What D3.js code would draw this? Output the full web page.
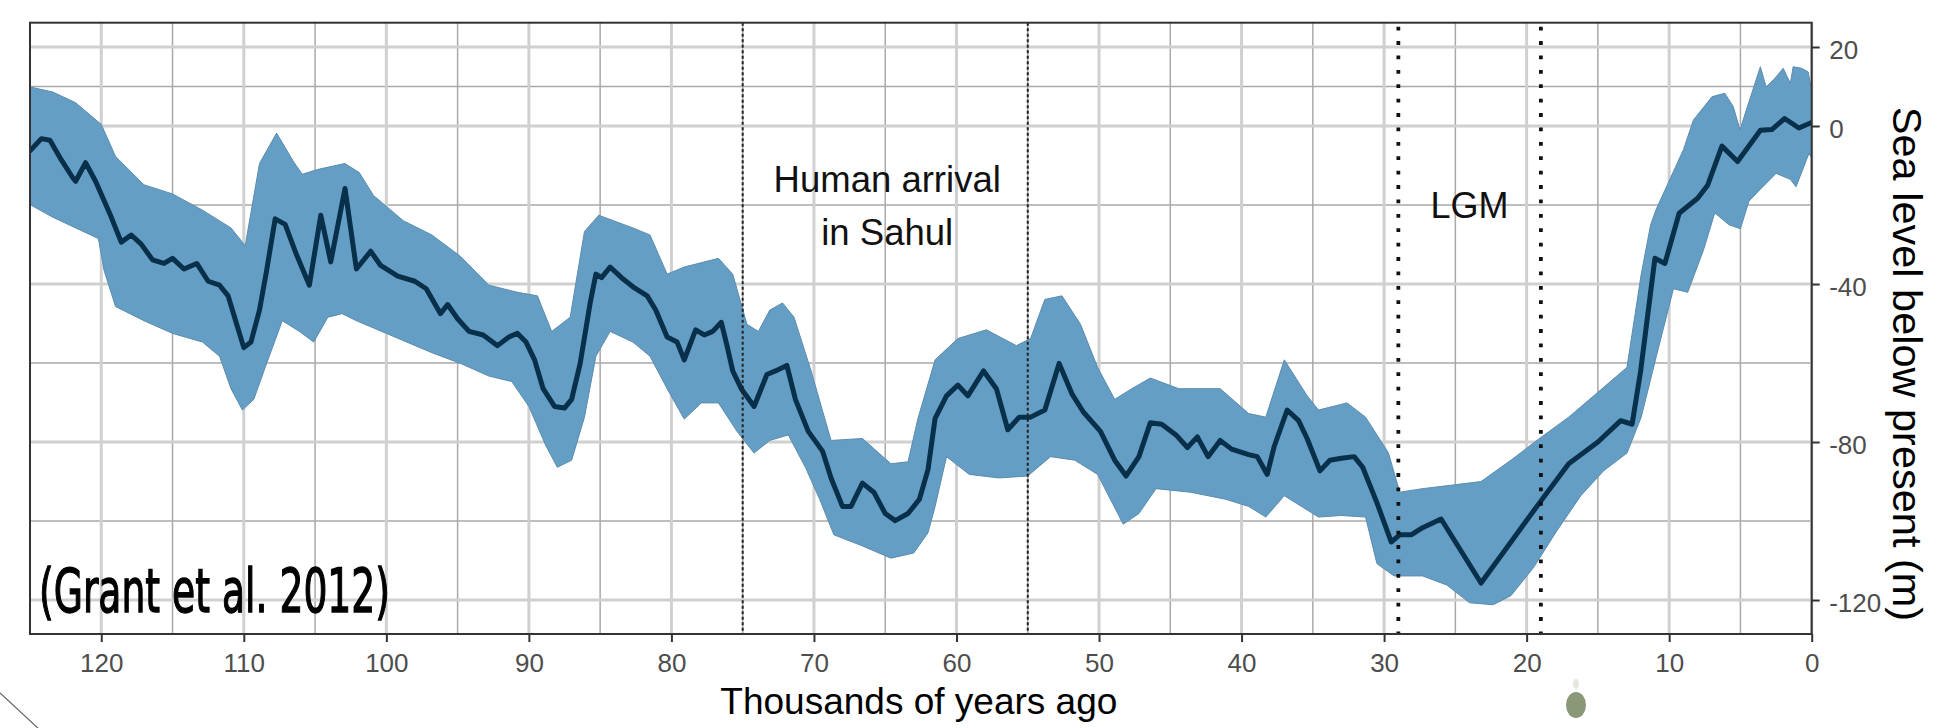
<!DOCTYPE html>
<html>
<head>
<meta charset="utf-8">
<script src="https://cdn.jsdelivr.net/npm/d3@7"></script>
<style>
  html, body { margin: 0; padding: 0; background: #fff; }
  svg { display: block; font-family: "Liberation Sans", Arial, Helvetica, sans-serif; }
</style>
</head>
<body>
<svg id="chart" width="1933" height="728"></svg>
<script>
// Mean sea level (m relative to present) against age (thousands of years ago)
var lineAge = [125.0, 124.2, 123.6, 122.8, 122.0, 121.8, 121.1, 120.4, 119.4, 118.6, 117.9, 117.2, 116.4, 115.6, 115.0,
  114.2, 113.3, 112.5, 111.7, 111.1, 110.5, 110.0, 109.5, 108.9, 108.4, 107.8, 107.1, 106.3, 105.4, 104.6, 103.9,
  102.9, 102.1, 101.1, 100.4, 99.2, 98.0, 97.2, 96.2, 95.7, 95.0, 94.2, 93.2, 92.2, 91.4, 90.8, 90.2, 89.6, 89.0,
  88.2, 87.5, 87.0, 86.4, 85.7, 85.3, 84.9, 84.3, 83.5, 82.7, 81.7, 81.1, 80.3, 79.6, 79.1, 78.3, 77.7, 77.1, 76.5,
  76.1, 75.7, 75.1, 74.2, 73.3, 72.7, 71.9, 71.3, 70.4, 69.4, 68.8, 68.0, 67.4, 66.6, 65.8, 65.0, 64.3, 63.4, 62.6,
  62.0, 61.5, 60.7, 59.9, 59.2, 58.1, 57.2, 56.4, 55.6, 54.8, 53.8, 52.8, 51.9, 51.1, 49.9, 48.9, 48.1, 47.2, 46.4,
  45.6, 44.6, 43.8, 43.1, 42.35, 41.5, 40.7, 39.5, 38.9, 38.2, 37.7, 36.8, 36.0, 35.4, 34.5, 33.8, 33.0, 32.1, 31.5,
  30.5, 29.5, 28.9, 28.1, 27.3, 26.0, 23.2, 21.1, 19.1, 17.05, 15.0, 13.4, 12.6, 12.0, 11.0, 10.3, 9.3, 8.0, 7.3,
  6.3, 5.2, 3.6, 2.8, 1.9, 0.9, 0.0];
var lineLevel = [-6.3, -3.2, -3.6, -8.6, -13.1, -14.0, -9.3, -14.0, -22.2, -29.4, -27.6, -29.9, -33.9, -34.8, -33.5,
  -36.2, -34.8, -39.3, -40.3, -43.0, -50.2, -56.1, -54.7, -46.6, -36.6, -23.5, -24.9, -32.6, -40.3, -22.6, -34.4,
  -15.8, -36.2, -31.7, -35.3, -38.0, -39.3, -41.2, -47.5, -45.2, -48.8, -52.0, -52.9, -55.6, -53.4, -52.5, -54.7,
  -59.2, -66.5, -71.0, -71.4, -69.2, -60.1, -44.8, -37.5, -38.4, -35.7, -38.4, -40.7, -43.0, -46.6, -53.4, -54.7,
  -59.2, -51.6, -52.9, -52.0, -49.7, -55.6, -62.0, -66.5, -71.0, -62.9, -62.0, -60.6, -69.2, -77.3, -82.3, -89.1,
  -96.3, -96.3, -90.4, -92.7, -98.1, -99.9, -98.1, -94.5, -87.0, -74.0, -68.3, -65.6, -68.3, -62.0, -66.5, -76.9,
  -73.7, -73.7, -71.9, -60.1, -67.8, -72.4, -77.3, -84.6, -88.6, -83.7, -75.1, -75.5, -78.2, -81.4, -78.7, -83.7,
  -79.6, -81.8, -83.2, -83.7, -88.2, -81.0, -71.9, -74.6, -79.1, -87.3, -84.6, -84.1, -83.7, -86.4, -95.4, -105.3,
  -103.5, -103.5, -101.7, -99.5, -115.7, -105.3, -95.4, -85.5, -80.0, -74.6, -75.5, -62.0, -33.5, -34.8, -22.1,
  -18.3, -15.0, -5.1, -9.0, -1.1, -0.9, 1.9, -0.5, 0.9];

// Upper edge of the uncertainty band
var upperAge = [125.0, 123.4, 121.8, 120.0, 119.0, 117.0, 115.0, 112.9, 110.9, 109.9, 108.9, 107.7, 106.5, 105.9,
  104.7, 102.9, 101.9, 100.9, 98.8, 96.8, 94.8, 92.8, 90.8, 89.4, 88.4, 87.1, 86.1, 85.1, 82.7, 81.5, 80.3, 79.1,
  76.7, 75.7, 74.7, 73.9, 73.1, 72.2, 71.4, 70.2, 68.8, 66.6, 64.6, 63.4, 62.7, 61.5, 59.9, 57.9, 55.8, 54.8, 53.8,
  52.6, 51.3, 50.1, 48.9, 47.7, 46.4, 44.4, 41.5, 39.5, 38.3, 37.0, 35.4, 34.6, 32.6, 31.3, 29.7, 28.9, 27.3, 25.2,
  23.2, 21.1, 19.1, 17.05, 15.0, 12.96, 11.96, 11.3, 10.9, 9.0, 8.3, 7.0, 6.1, 5.5, 5.03, 4.6, 3.6, 3.2, 2.6, 2.0,
  1.5, 1.3, 0.7, 0.25, 0.0];
var upperLevel = [9.9, 8.6, 5.9, 0.4, -7.7, -14.9, -17.2, -21.3, -25.8, -30.3, -9.5, -1.8, -9.1, -12.2,
  -10.9, -9.5, -11.8, -17.6, -24.0, -27.6, -33.0, -40.3, -42.1, -43.0, -52.0, -48.4, -26.7, -22.6, -25.8, -27.6,
  -37.5, -35.7, -33.5, -37.5, -50.2, -52.0, -46.6, -44.8, -48.4, -62.0, -79.6, -79.1, -85.5, -85.0, -74.0, -59.2,
  -53.8, -51.6, -55.6, -53.8, -43.9, -43.0, -50.2, -61.1, -69.2, -66.5, -63.8, -66.5, -66.5, -72.8, -73.7, -59.2,
  -68.3, -71.9, -70.1, -73.7, -82.7, -92.7, -91.8, -90.9, -90.0, -84.6, -79.1, -73.7, -67.4, -61.1, -37.5, -25.0,
  -21.0, -6.0, 1.5, 7.4, 8.3, 4.9, -1.0, 3.9, 15.0, 9.9, 12.0, 14.6, 10.8, 15.0, 14.6, 13.7, 9.0];

// Lower edge of the uncertainty band
var lowerAge = [125.0, 123.4, 121.8, 120.2, 119.8, 119.0, 117.0, 115.0, 112.9, 111.7, 110.9, 110.1, 109.3, 108.5,
  107.3, 106.1, 105.1, 104.1, 103.1, 102.1, 100.0, 96.8, 94.8, 92.8, 91.2, 90.0, 88.8, 88.0, 87.0, 86.1, 85.3, 84.3,
  82.7, 81.5, 80.3, 79.1, 77.9, 76.7, 75.4, 74.2, 73.1, 71.8, 70.6, 69.6, 68.6, 66.6, 64.6, 63.0, 62.0, 61.5, 60.7,
  59.1, 57.0, 55.0, 53.4, 51.7, 50.1, 48.3, 47.2, 46.0, 43.6, 41.1, 39.5, 38.3, 37.0, 35.4, 34.6, 33.0, 31.3, 30.5,
  29.3, 27.3, 25.6, 24.0, 22.35, 21.1, 19.5, 17.9, 16.2, 14.6, 12.96, 11.96, 10.9, 9.7, 8.7, 7.6, 6.8, 5.8, 5.0,
  4.4, 3.6, 2.5, 1.5, 1.1, 0.2, 0.0];
var lowerLevel = [-19.9, -23.1, -25.8, -28.5, -36.6, -45.7, -49.3, -52.5, -54.7, -58.3, -66.5, -71.9, -69.2, -61.1,
  -49.3, -52.0, -54.7, -48.4, -47.5, -49.3, -52.5, -57.4, -60.1, -63.3, -64.7, -71.0, -81.0, -86.4, -84.6, -73.7,
  -58.3, -52.0, -54.7, -58.3, -66.5, -74.2, -70.1, -70.1, -77.3, -82.8, -79.6, -78.2, -86.4, -94.5, -103.5, -106.3,
  -109.4, -108.1, -103.0, -96.3, -83.7, -88.2, -89.1, -88.6, -83.7, -84.6, -88.2, -100.8, -98.1, -91.8, -92.7,
  -94.5, -96.3, -99.0, -93.6, -97.2, -99.0, -98.6, -99.0, -110.8, -113.9, -113.9, -116.2, -120.7, -121.2, -118.9,
  -111.7, -102.6, -93.6, -87.3, -82.8, -73.7, -58.3, -41.2, -42.1, -31.5, -22.0, -25.0, -26.0, -19.0, -16.0, -12.0,
  -13.5, -15.4, -7.0, -8.0];

// Tick values and reference periods
var xMajorTicks = [120, 110, 100, 90, 80, 70, 60, 50, 40, 30, 20, 10, 0];
var xMinorTicks = [115, 105, 95, 85, 75, 65, 55, 45, 35, 25, 15, 5];
var yMajorTicks = [20, 0, -40, -80, -120];
var yMinorTicks = [10, -20, -60, -100];
var arrivalLines = [75, 55];
var lgmLines = [29, 19];

// Chart Dimensions
var width = 1933;
var height = 728;
var panel = { left: 30, right: 1811.7, top: 22.7, bottom: 634 };

// X & Y Scales
var xScale = d3.scaleLinear().domain([125, 0]).range([panel.left, panel.right]);
var yScale = d3.scaleLinear().domain([-128.6, 26.15]).range([panel.bottom, panel.top]);

var svg = d3.select("#chart");

svg.append("defs").append("clipPath").attr("id", "panelClip")
  .append("rect")
  .attr("x", panel.left).attr("y", panel.top)
  .attr("width", panel.right - panel.left).attr("height", panel.bottom - panel.top);

// Grid lines (minor darker and thin, major lighter and wide)
var grid = svg.append("g").classed("grid", true);
grid.selectAll(".xMinor").data(xMinorTicks).enter().append("line")
  .attr("x1", xScale).attr("x2", xScale)
  .attr("y1", panel.top).attr("y2", panel.bottom)
  .attr("stroke", "#a9a9a9").attr("stroke-width", 1.5);
grid.selectAll(".yMinor").data(yMinorTicks).enter().append("line")
  .attr("x1", panel.left).attr("x2", panel.right)
  .attr("y1", yScale).attr("y2", yScale)
  .attr("stroke", "#a9a9a9").attr("stroke-width", 1.5);
grid.selectAll(".xMajor").data(xMajorTicks).enter().append("line")
  .attr("x1", xScale).attr("x2", xScale)
  .attr("y1", panel.top).attr("y2", panel.bottom)
  .attr("stroke", "#d0d0d0").attr("stroke-width", 3);
grid.selectAll(".yMajor").data(yMajorTicks).enter().append("line")
  .attr("x1", panel.left).attr("x2", panel.right)
  .attr("y1", yScale).attr("y2", yScale)
  .attr("stroke", "#d0d0d0").attr("stroke-width", 3);

var plot = svg.append("g").attr("clip-path", "url(#panelClip)");

// Uncertainty band: upper edge forward, lower edge back
var bandPoints = upperAge.map(function(a, i) { return [a, upperLevel[i]]; })
  .concat(lowerAge.map(function(a, i) { return [a, lowerLevel[i]]; }).reverse());
var polygon = d3.line()
  .x(function(d) { return xScale(d[0]); })
  .y(function(d) { return yScale(d[1]); });

plot.append("path")
  .attr("d", polygon(bandPoints) + "Z")
  .attr("fill", "#659ec4")
  .attr("stroke", "#5b8cad")
  .attr("stroke-width", 1)
  .attr("stroke-linejoin", "round");

// Mean sea level line
var seaLine = d3.line()
  .x(function(d, i) { return xScale(lineAge[i]); })
  .y(function(d) { return yScale(d); });

plot.append("path")
  .attr("d", seaLine(lineLevel))
  .attr("fill", "none")
  .attr("stroke", "#08304a")
  .attr("stroke-width", 5)
  .attr("stroke-linejoin", "round")
  .attr("stroke-linecap", "round");

// Reference periods
plot.selectAll(".arrival").data(arrivalLines).enter().append("line")
  .attr("x1", xScale).attr("x2", xScale)
  .attr("y1", panel.top).attr("y2", panel.bottom)
  .attr("stroke", "#222").attr("stroke-width", 2)
  .attr("stroke-dasharray", "3,2.5");
plot.selectAll(".lgm").data(lgmLines).enter().append("line")
  .attr("x1", xScale).attr("x2", xScale)
  .attr("y1", panel.top + 4).attr("y2", panel.bottom)
  .attr("stroke", "#111").attr("stroke-width", 3.8)
  .attr("stroke-dasharray", "3.8,10.6");

// Panel border
svg.append("rect")
  .attr("x", panel.left).attr("y", panel.top)
  .attr("width", panel.right - panel.left).attr("height", panel.bottom - panel.top)
  .attr("fill", "none").attr("stroke", "#333").attr("stroke-width", 2);

// Axes
var xAxis = d3.axisBottom(xScale).tickValues(xMajorTicks).tickSize(8).tickPadding(12).tickFormat(String);
var yAxis = d3.axisRight(yScale).tickValues(yMajorTicks).tickSize(8).tickPadding(9.5).tickFormat(String);

var gx = svg.append("g").attr("transform", "translate(0," + panel.bottom + ")").call(xAxis);
var gy = svg.append("g").attr("transform", "translate(" + panel.right + ",0)").call(yAxis);

[gx, gy].forEach(function(g) {
  g.attr("font-size", null).attr("font-family", null);
  g.select(".domain").remove();
  g.selectAll(".tick line").attr("stroke", "#333").attr("stroke-width", 2);
  g.selectAll(".tick text").attr("fill", "#4d4d4d").style("font-size", "26px");
});
gy.selectAll(".tick text").attr("dy", "0.44em");

// Axis titles
svg.append("text")
  .attr("x", (panel.left + panel.right) / 2 - 2)
  .attr("y", 714)
  .attr("text-anchor", "middle")
  .style("font-size", "37px")
  .attr("fill", "#000")
  .text("Thousands of years ago");

svg.append("text")
  .attr("transform", "translate(1893,364) rotate(90)")
  .attr("text-anchor", "middle")
  .style("font-size", "41.5px")
  .attr("fill", "#000")
  .text("Sea level below present (m)");

// Annotations
var arrivalLabel = svg.append("text")
  .attr("text-anchor", "middle")
  .style("font-size", "36.5px")
  .attr("fill", "#111");
arrivalLabel.append("tspan").attr("x", xScale(65) + 2).attr("y", 191.5).text("Human arrival");
arrivalLabel.append("tspan").attr("x", xScale(65) + 2).attr("y", 245).text("in Sahul");

svg.append("text")
  .attr("x", xScale(24))
  .attr("y", 218)
  .attr("text-anchor", "middle")
  .style("font-size", "36px")
  .attr("fill", "#111")
  .text("LGM");

svg.append("text")
  .attr("x", 39)
  .attr("y", 611.5)
  .attr("textLength", 351)
  .attr("lengthAdjust", "spacingAndGlyphs")
  .style("font-family", "'Liberation Sans Narrow', 'DejaVu Sans Condensed', sans-serif")
  .style("font-size", "60px")
  .attr("fill", "#000")
  .attr("stroke", "#000")
  .attr("stroke-width", 1.3)
  .text("(Grant et al. 2012)");

// Slide leftovers around the figure
svg.append("line")
  .attr("x1", 0).attr("y1", 693).attr("x2", 40).attr("y2", 730)
  .attr("stroke", "#666").attr("stroke-width", 1.2);
svg.append("ellipse")
  .attr("cx", 1576).attr("cy", 705).attr("rx", 10).attr("ry", 13)
  .attr("fill", "#8a9878");
svg.append("ellipse")
  .attr("cx", 1576).attr("cy", 684).attr("rx", 3).attr("ry", 5)
  .attr("fill", "#e4e6e0");
</script>
</body>
</html>
